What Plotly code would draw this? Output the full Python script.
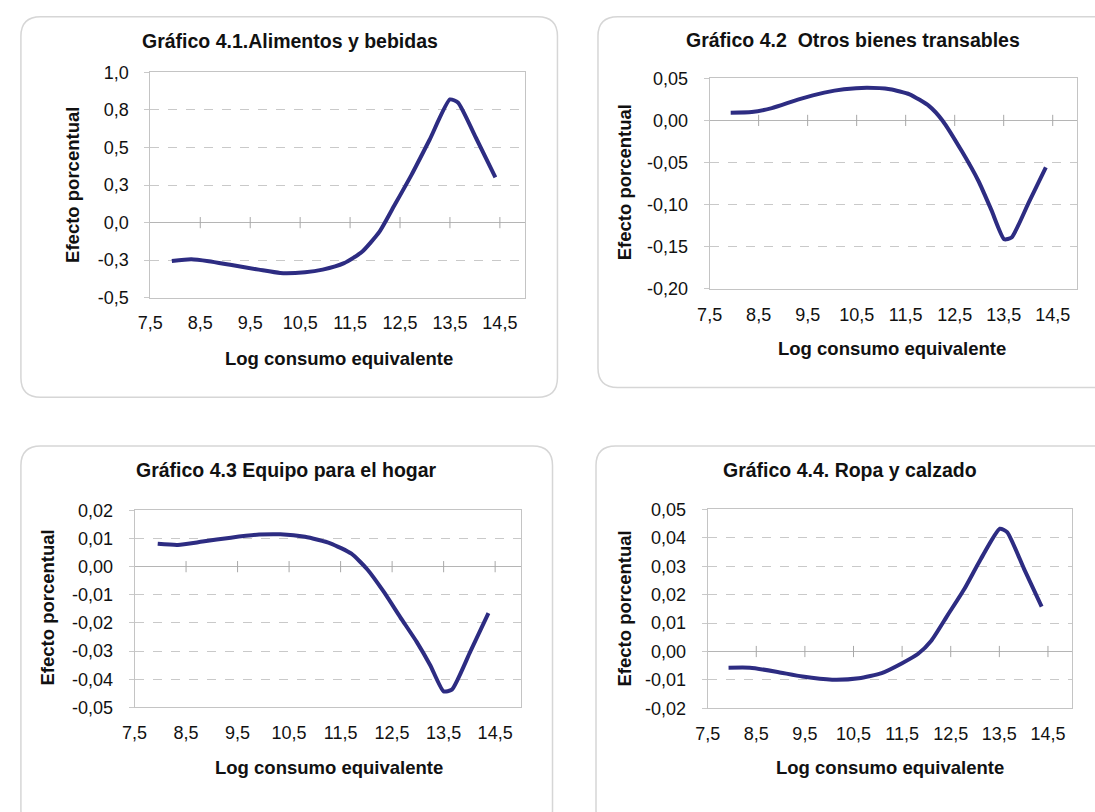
import plotly.graph_objects as go

# ---- data -------------------------------------------------------------
x_ticks = [7.5, 8.5, 9.5, 10.5, 11.5, 12.5, 13.5, 14.5]
x_tick_labels = ["7,5", "8,5", "9,5", "10,5", "11,5", "12,5", "13,5", "14,5"]

titles = [
    "Gráfico 4.1.Alimentos y bebidas",
    "Gráfico 4.2  Otros bienes transables",
    "Gráfico 4.3 Equipo para el hogar",
    "Gráfico 4.4. Ropa y calzado",
]

# 4.1 Alimentos y bebidas
x_alim = [7.93, 8.32, 8.67, 9.10, 9.67, 10.10, 10.60, 10.95, 11.38, 11.74,
          12.09, 12.38, 12.73, 13.09, 13.50, 13.66, 14.02, 14.41]
y_alim = [-0.255, -0.244, -0.257, -0.281, -0.313, -0.335, -0.330, -0.313, -0.270,
          -0.194, -0.060, 0.110, 0.318, 0.550, 0.820, 0.800, 0.565, 0.302]
yt_alim = [-0.5, -0.25, 0.0, 0.25, 0.5, 0.75, 1.0]
yl_alim = ["-0,5", "-0,3", "0,0", "0,3", "0,5", "0,8", "1,0"]

# 4.2 Otros bienes transables
x_otros = [7.93, 8.36, 8.77, 9.30, 9.84, 10.24, 10.71, 11.18, 11.58, 11.98,
           12.25, 12.65, 12.99, 13.25, 13.51, 13.66, 14.01, 14.36]
y_otros = [0.0092, 0.0100, 0.0146, 0.0246, 0.0330, 0.0370, 0.0388, 0.0370, 0.0310,
           0.0170, 0.0000, -0.0370, -0.0725, -0.1065, -0.1410, -0.1390, -0.0975, -0.0557]
yt_otros = [-0.20, -0.15, -0.10, -0.05, 0.0, 0.05]
yl_otros = ["-0,20", "-0,15", "-0,10", "-0,05", "0,00", "0,05"]

# 4.3 Equipo para el hogar
x_equipo = [7.95, 8.34, 8.82, 9.37, 9.92, 10.33, 10.81, 11.30, 11.71, 12.02,
            12.34, 12.66, 12.98, 13.24, 13.50, 13.66, 14.02, 14.37]
y_equipo = [0.0081, 0.0077, 0.0089, 0.0103, 0.0114, 0.0115, 0.0106, 0.0083, 0.0046,
            -0.0010, -0.0090, -0.0180, -0.0268, -0.0350, -0.0443, -0.0437, -0.0301, -0.0165]
yt_equipo = [-0.05, -0.04, -0.03, -0.02, -0.01, 0.0, 0.01, 0.02]
yl_equipo = ["-0,05", "-0,04", "-0,03", "-0,02", "-0,01", "0,00", "0,01", "0,02"]

# 4.4 Ropa y calzado
x_ropa = [7.93, 8.37, 8.91, 9.45, 10.06, 10.61, 11.08, 11.49, 11.83, 12.10,
          12.44, 12.78, 13.11, 13.51, 13.66, 14.01, 14.37]
y_ropa = [-0.0057, -0.0057, -0.0071, -0.0088, -0.0099, -0.0094, -0.0076, -0.0042,
          -0.0008, 0.0038, 0.0129, 0.0220, 0.0323, 0.0432, 0.0420, 0.0290, 0.0158]
yt_ropa = [-0.02, -0.01, 0.0, 0.01, 0.02, 0.03, 0.04, 0.05]
yl_ropa = ["-0,02", "-0,01", "0,00", "0,01", "0,02", "0,03", "0,04", "0,05"]

# ---- layout helpers ---------------------------------------------------
W, H = 1095, 812
LINE_COLOR = "#2d2c82"
GRID = "#c9c9c9"
BORDER = "#c4c4c4"
FONT = "Liberation Sans, Arial, sans-serif"
FS = 18
TEXT = "#111"


def px(x):
    return x / W


def py(y):
    return 1 - y / H


# panel geometry in pixels: plot area (l, t, r, b), card (l, t, r, b),
# title centre, x-title centre, y-title centre
panels = [
    dict(x=x_alim, y=y_alim, yt=yt_alim, yl=yl_alim, yr=[-0.5, 1.0],
         plot=(139, 64, 518, 295), card=(8, 7, 551, 397),
         title=(280, 32), xtitle=(330, 357), ytitle=(60, 179)),
    dict(x=x_otros, y=y_otros, yt=yt_otros, yl=yl_otros, yr=[-0.20, 0.05],
         plot=(705, 70, 1077, 286), card=(592, 7, 1120, 387),
         title=(850, 31), xtitle=(890, 347), ytitle=(619, 177)),
    dict(x=x_equipo, y=y_equipo, yt=yt_equipo, yl=yl_equipo, yr=[-0.05, 0.02],
         plot=(123, 513, 514, 715), card=(8, 447, 546, 840),
         title=(277, 472), xtitle=(320, 777), ytitle=(35, 613)),
    dict(x=x_ropa, y=y_ropa, yt=yt_ropa, yl=yl_ropa, yr=[-0.02, 0.05],
         plot=(703, 512, 1072, 716), card=(590, 447, 1120, 840),
         title=(847, 472), xtitle=(888, 777), ytitle=(619, 614)),
]


def rounded_rect(l, t, r, b, rad=20):
    x0, x1 = px(l), px(r)
    y0, y1 = py(b), py(t)
    rx, ry = rad / W, rad / H
    return (f"M {x0 + rx},{y1} L {x1 - rx},{y1} Q {x1},{y1} {x1},{y1 - ry} "
            f"L {x1},{y0 + ry} Q {x1},{y0} {x1 - rx},{y0} "
            f"L {x0 + rx},{y0} Q {x0},{y0} {x0},{y0 + ry} "
            f"L {x0},{y1 - ry} Q {x0},{y1} {x0 + rx},{y1} Z")


fig = go.Figure()
shapes, annotations = [], []

for i, p in enumerate(panels, start=1):
    xa = "x" if i == 1 else f"x{i}"
    ya = "y" if i == 1 else f"y{i}"
    l, t, r, b = p["plot"]

    # crossing tick marks on the horizontal (zero) axis
    fig.add_trace(go.Scatter(
        x=x_ticks[1:], y=[0] * (len(x_ticks) - 1), xaxis=xa, yaxis=ya,
        mode="markers", hoverinfo="skip", showlegend=False,
        marker=dict(symbol="line-ns", size=8, line=dict(width=1, color="#a8a8a8")),
    ))
    # the curve
    fig.add_trace(go.Scatter(
        x=p["x"], y=p["y"], xaxis=xa, yaxis=ya, mode="lines", showlegend=False,
        line=dict(color=LINE_COLOR, width=4, shape="spline", smoothing=0.55),
    ))

    fig.update_layout(**{
        ("xaxis" if i == 1 else f"xaxis{i}"): dict(
            domain=[px(l), px(r)], anchor=ya, range=[7.5, 15.0],
            tickvals=x_ticks, ticktext=x_tick_labels,
            showgrid=False, zeroline=False, showline=True, mirror=True,
            linecolor=BORDER, linewidth=1, ticks="", ticklabelstandoff=9,
            tickfont=dict(family=FONT, size=FS, color=TEXT),
            fixedrange=True,
        ),
        ("yaxis" if i == 1 else f"yaxis{i}"): dict(
            domain=[py(b), py(t)], anchor=xa, range=p["yr"],
            tickvals=p["yt"], ticktext=p["yl"],
            showgrid=True, gridcolor=GRID, griddash="dash", gridwidth=1,
            zeroline=True, zerolinecolor="#b5b5b5", zerolinewidth=1,
            showline=True, mirror=True, linecolor=BORDER, linewidth=1,
            ticks="outside", ticklen=5, tickcolor=GRID, ticklabelstandoff=12,
            tickfont=dict(family=FONT, size=FS, color=TEXT),
            fixedrange=True,
        ),
    })

    shapes.append(dict(type="path", xref="paper", yref="paper",
                       path=rounded_rect(*p["card"]),
                       line=dict(color="#d6d6d6", width=1.5), layer="below"))

    tx, ty = p["title"]
    annotations.append(dict(text=f"<b>{titles[i - 1]}</b>", x=px(tx), y=py(ty),
                            xref="paper", yref="paper", showarrow=False,
                            xanchor="center", yanchor="middle",
                            font=dict(family=FONT, size=19.5, color=TEXT)))
    xx, xy = p["xtitle"]
    annotations.append(dict(text="<b>Log consumo equivalente</b>", x=px(xx), y=py(xy),
                            xref="paper", yref="paper", showarrow=False,
                            xanchor="center", yanchor="middle",
                            font=dict(family=FONT, size=18.5, color=TEXT)))
    yx, yy = p["ytitle"]
    annotations.append(dict(text="<b>Efecto porcentual</b>", x=px(yx), y=py(yy),
                            xref="paper", yref="paper", showarrow=False,
                            textangle=-90, xanchor="center", yanchor="middle",
                            font=dict(family=FONT, size=18.5, color=TEXT)))

fig.update_layout(
    width=W, height=H, margin=dict(l=0, r=0, t=0, b=0),
    paper_bgcolor="white", plot_bgcolor="white",
    shapes=shapes, annotations=annotations, showlegend=False,
)

fig.write_html("out.html", config={"displayModeBar": False})
